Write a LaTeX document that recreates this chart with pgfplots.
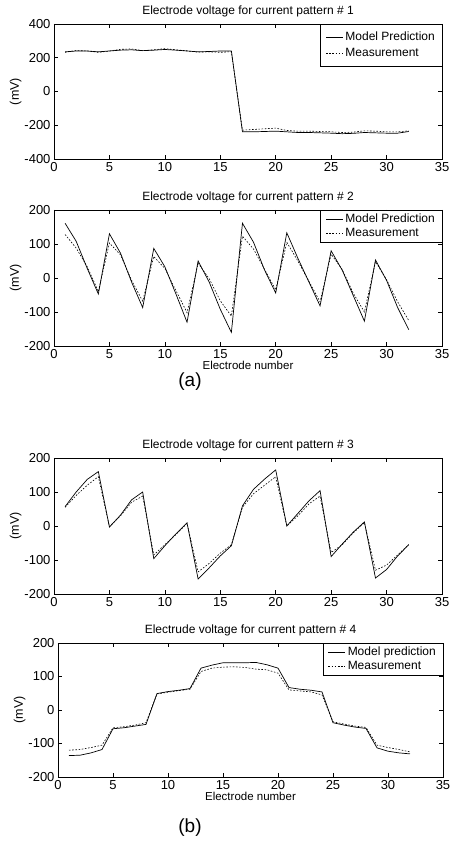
\documentclass[border=0pt]{standalone}
\usepackage{fontspec}
\setmainfont{Liberation Sans}
\usepackage{pgfplots}
\pgfplotsset{compat=1.18}
\usepackage{pgfplotstable}

% electrode voltages, model prediction (m) and measurement (s)
\pgfplotstableread{
x   m1    s1    m2    s2    m3    s3    m4    s4
1   235   232   161   128   57    55    -136  -120
2   240   243   108   88    100   90    -135  -118
3   240   240   28    33    137   120   -128  -112
4   235   232   -47   -40   160   145   -118  -105
5   240   240   130   103   -3    -2    -56   -53
6   245   250   73    68    32    30    -53   -50
7   247   252   -12   -7    77    70    -48   -45
8   242   242   -87   -68   100   88    -43   -38
9   245   247   87    63    -96   -85   49    48
10  249   254   33    28    -58   -55   55    53
11  245   247   -47   -37   -23   -25   59    58
12  240   241   -130  -102  9     8     64    62
13  235   233   50    43    -156  -135  125   115
14  237   235   -12   -2    -123  -110  134   125
15  240   232   -92   -67   -88   -80   141   128
16  240   236   -160  -112  -58   -55   141   129
17  -239  -229  161   123   59    55    141   127
18  -239  -225  105   85    108   95    142   122
19  -237  -221  23    25    138   120   135   120
20  -235  -217  -44   -35   165   145   125   110
21  -239  -231  133   105   0     0     67    60
22  -243  -235  58    50    37    30    62    57
23  -243  -235  -12   -10   74    65    59    54
24  -245  -237  -82   -70   104   88    54    45
25  -247  -239  80    70    -90   -78   -38   -35
26  -250  -243  23    25    -53   -55   -45   -42
27  -248  -241  -52   -45   -18   -20   -51   -48
28  -243  -233  -127  -100  12    10    -55   -52
29  -245  -235  53    48    -153  -130  -113  -105
30  -247  -239  -7    -5    -128  -115  -123  -112
31  -247  -239  -87   -70   -88   -85   -128  -118
32  -237  -233  -152  -125  -55   -55   -131  -125
}\volts

\pgfplotsset{
  panel/.style={
    scale only axis,
    width=388pt,
    height=135pt,
    xmin=0, xmax=35,
    xtick={0,5,...,35},
    tick align=inside,
    major tick length=4pt,
    axis line style={line width=0.6pt},
    tick style={line width=0.5pt, black},
    tick label style={font=\fontsize{13}{14}\selectfont},
    /pgf/number format/assume math mode=true,
    title style={font=\fontsize{12}{14}\selectfont, yshift=-3pt},
    ylabel={(mV)},
    ylabel style={font=\fontsize{12.5}{14}\selectfont, yshift=-4pt},
    xlabel style={font=\fontsize{11.5}{13}\selectfont, yshift=4pt},
    legend style={at={(1,1)}, anchor=north east, draw=black,
      font=\fontsize{12}{14}\selectfont, inner xsep=5pt, inner ysep=2pt,
      row sep=0pt},
    legend cell align=left,
    legend image code/.code={\draw[##1] (0cm,0cm) -- (0.6cm,0cm);},
  },
  model/.style={black, line width=0.7pt},
  meas/.style={black, line width=0.6pt, dash pattern=on 1.6pt off 1.6pt},
}

\begin{document}
\begin{tikzpicture}
\useasboundingbox (0,0) rectangle (451pt,854pt);

\begin{axis}[panel, at={(54pt,695pt)}, anchor=south west,
  ymin=-400, ymax=400, ytick={-400,-200,...,400},
  legend style={inner ysep=6pt, row sep=2pt},
  title={Electrode voltage for current pattern \#\ 1}]
  \addplot[model] table[x=x, y=m1] {\volts};
  \addplot[meas]  table[x=x, y=s1] {\volts};
  \legend{Model Prediction, Measurement}
\end{axis}

\begin{axis}[panel, at={(54pt,508pt)}, anchor=south west, height=136pt,
  ymin=-200, ymax=200, ytick={-200,-100,...,200},
  title={Electrode voltage for current pattern \#\ 2},
  xlabel={Electrode number}]
  \addplot[model] table[x=x, y=m2] {\volts};
  \addplot[meas]  table[x=x, y=s2] {\volts};
  \legend{Model Prediction, Measurement}
\end{axis}

\node[font=\fontsize{19}{22}\selectfont] at (190pt,472pt) {(a)};

\begin{axis}[panel, at={(54pt,260pt)}, anchor=south west, height=136pt,
  ymin=-200, ymax=200, ytick={-200,-100,...,200},
  title={Electrode voltage for current pattern \#\ 3}]
  \addplot[model] table[x=x, y=m3] {\volts};
  \addplot[meas]  table[x=x, y=s3] {\volts};
\end{axis}

\begin{axis}[panel, at={(58pt,77pt)}, anchor=south west, width=385pt, height=134pt,
  ymin=-200, ymax=200, ytick={-200,-100,...,200},
  title={Electrude voltage for current pattern \#\ 4},
  xlabel={Electrode number}]
  \addplot[model] table[x=x, y=m4] {\volts};
  \addplot[meas]  table[x=x, y=s4] {\volts};
  \legend{Model prediction, Measurement}
\end{axis}

\node[font=\fontsize{19}{22}\selectfont] at (190pt,26pt) {(b)};
\end{tikzpicture}
\end{document}
